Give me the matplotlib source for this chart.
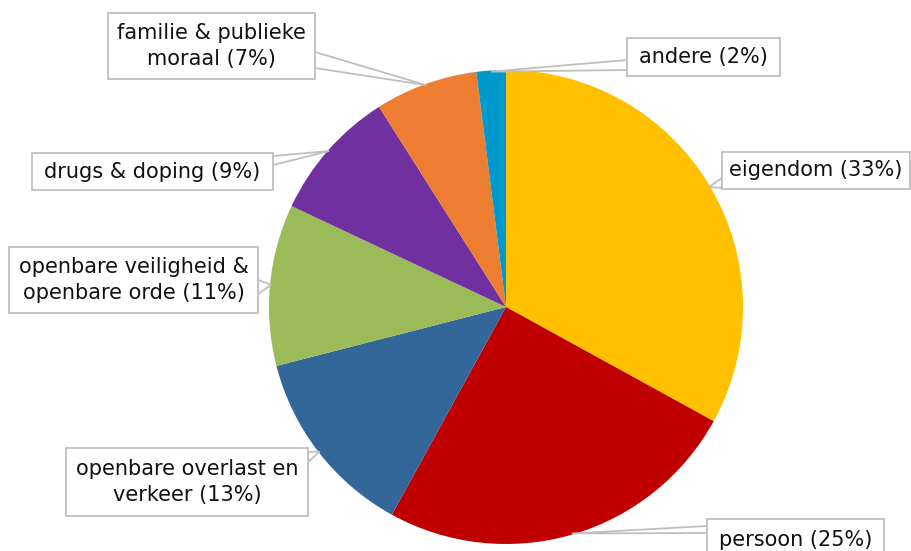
import matplotlib
matplotlib.use('Agg')
import matplotlib.pyplot as plt
import numpy as np
from matplotlib.patches import Polygon, Rectangle

labels = ['eigendom (33%)', 'persoon (25%)', 'openbare overlast en\nverkeer (13%)',
          'openbare veiligheid &\nopenbare orde (11%)', 'drugs & doping (9%)',
          'familie & publieke\nmoraal (7%)', 'andere (2%)']
shares = [33, 25, 13, 11, 9, 7, 2]
colors = ['#FFC000', '#C00000', '#336699', '#9BBB59', '#7030A0', '#ED7D31', '#0099CC']

# label boxes in pixels from top-left: (x0, y0, x1, y1)
boxes = [(722, 152, 910, 189), (707, 519, 884, 560), (66, 448, 308, 516),
         (9, 247, 258, 313), (32, 153, 273, 190), (108, 13, 315, 79), (627, 38, 780, 76)]
# callout base points on the box edge
callout_base = [((722, 178), (722, 188)), ((707, 526), (707, 533)), ((308, 452), (308, 462)),
                ((258, 280), (258, 294)), ((273, 156), (273, 165)), ((315, 52), (315, 68)),
                ((627, 60), (627, 70))]

W, H = 911, 551
fig = plt.figure(figsize=(W / 100, H / 100), dpi=100)
ax = fig.add_axes([0, 0, 1, 1])

cx, cy, r = 506, H - 307, 237
ax.pie(shares, colors=colors, startangle=90, counterclock=False,
       center=(cx, cy), radius=r, frame=True, wedgeprops=dict(linewidth=0))
ax.set_xlim(0, W)
ax.set_ylim(0, H)
ax.set_aspect('equal')
ax.axis('off')

cum = np.cumsum([0] + shares[:-1])
for i, lab in enumerate(labels):
    mid = (cum[i] + shares[i] / 2) / 100 * 2 * np.pi
    px = cx + r * 0.995 * np.sin(mid)
    py = cy + r * 0.995 * np.cos(mid)
    (b1x, b1y), (b2x, b2y) = callout_base[i]
    tri = Polygon([(b1x, H - b1y), (px, py), (b2x, H - b2y)], closed=True,
                  facecolor='white', edgecolor='#BFBFBF', linewidth=1.3, zorder=3)
    ax.add_patch(tri)
    x0, y0, x1, y1 = boxes[i]
    ax.add_patch(Rectangle((x0, H - y1), x1 - x0, y1 - y0, facecolor='white',
                           edgecolor='#BFBFBF', linewidth=1.3, zorder=4))
    ax.text((x0 + x1) / 2, H - (y0 + y1) / 2 if i != 1 else H - 540, lab,
            ha='center', va='center', fontsize=15, color='#111111',
            linespacing=1.32, zorder=5)

fig.savefig('out.png', dpi=100)
